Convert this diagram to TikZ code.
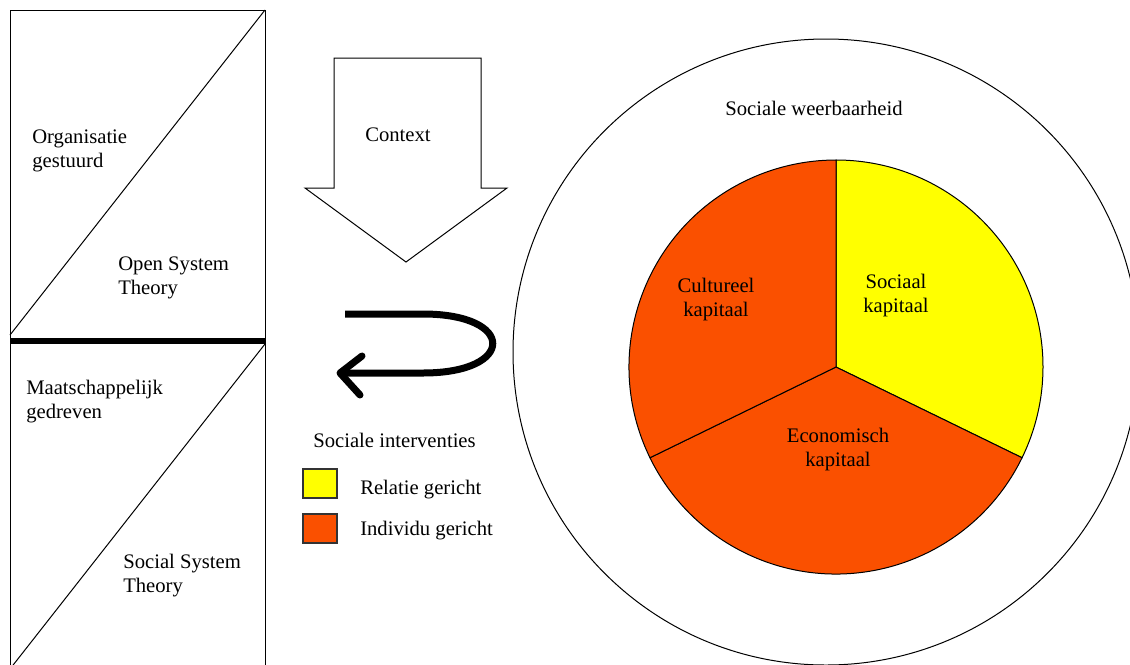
\documentclass[tikz,border=0pt]{standalone}
\usepackage{fontspec}
\setmainfont{Liberation Serif}
\definecolor{oranje}{RGB}{250,80,0}
\definecolor{geel}{RGB}{255,255,0}
\begin{document}
\begin{tikzpicture}[x=0.75pt, y=0.75pt, font=\fontsize{15.5}{18}\selectfont,
  rand/.style={line width=0.75pt},
  txt/.style={inner sep=0pt, align=left, anchor=west},
  kap/.style={inner sep=0pt, align=center},
  legenda/.style={draw=black!80, line width=1.5pt, minimum width=25.5pt, minimum height=21.75pt, inner sep=0pt}]
\clip (0,0) rectangle (1130,-664);
% left panel
\draw[rand] (10,-10) rectangle (265,-700);
\draw[rand] (10,-335) -- (265,-10);
\draw[rand] (10,-669) -- (265,-344);
\draw[line width=4.5pt] (10,-341) -- (265,-341);
\node[txt] (organisatie) at (32,-150.5) {Organisatie\\gestuurd};
\node[txt] (open) at (118,-277.5) {Open System\\Theory};
\node[txt] (maatschappij) at (26,-401.5) {Maatschappelijk\\gedreven};
\node[txt] (social) at (123,-575.5) {Social System\\Theory};
% context arrow
\draw[rand] (334,-58) -- (481,-58) -- (481,-188) -- (507,-188) -- (406,-262) -- (305,-188) -- (334,-188) -- cycle;
\node (context) at (398,-135) {Context};
% curved arrow
\draw[line width=5.25pt] (345,-314) -- (423,-314) .. controls (516,-314) and (516,-373) .. (423,-373) -- (340,-373);
\draw[line width=5.25pt, line cap=round, line join=round] (362,-356) -- (340,-373) -- (360,-395);
% legend
\node[txt] (interventies) at (313,-440) {Sociale interventies};
\node[legenda, fill=geel] (relatiebox) at (320,-483.5) {};
\node[txt] (relatie) at (360,-490) {Relatie gericht};
\node[legenda, fill=oranje] (individubox) at (320,-528) {};
\node[txt] (individu) at (360,-531) {Individu gericht};
% circles
\draw[rand] (826,-352) circle[radius=313];
\node (weerbaarheid) at (814,-108) {Sociale weerbaarheid};
\begin{scope}[shift={(836,-367)}]
\filldraw[rand, fill=geel] (0,0) -- (90:207) arc[start angle=90, end angle=-26, radius=207] -- cycle;
\filldraw[rand, fill=oranje] (0,0) -- (-26:207) arc[start angle=-26, end angle=-154, radius=207] -- cycle;
\filldraw[rand, fill=oranje] (0,0) -- (206:207) arc[start angle=206, end angle=90, radius=207] -- cycle;
\end{scope}
\node[kap] (sociaal) at (896,-295.5) {Sociaal\\kapitaal};
\node[kap] (cultureel) at (716,-299.5) {Cultureel\\kapitaal};
\node[kap] (economisch) at (838,-449.5) {Economisch\\kapitaal};
\end{tikzpicture}
\end{document}
